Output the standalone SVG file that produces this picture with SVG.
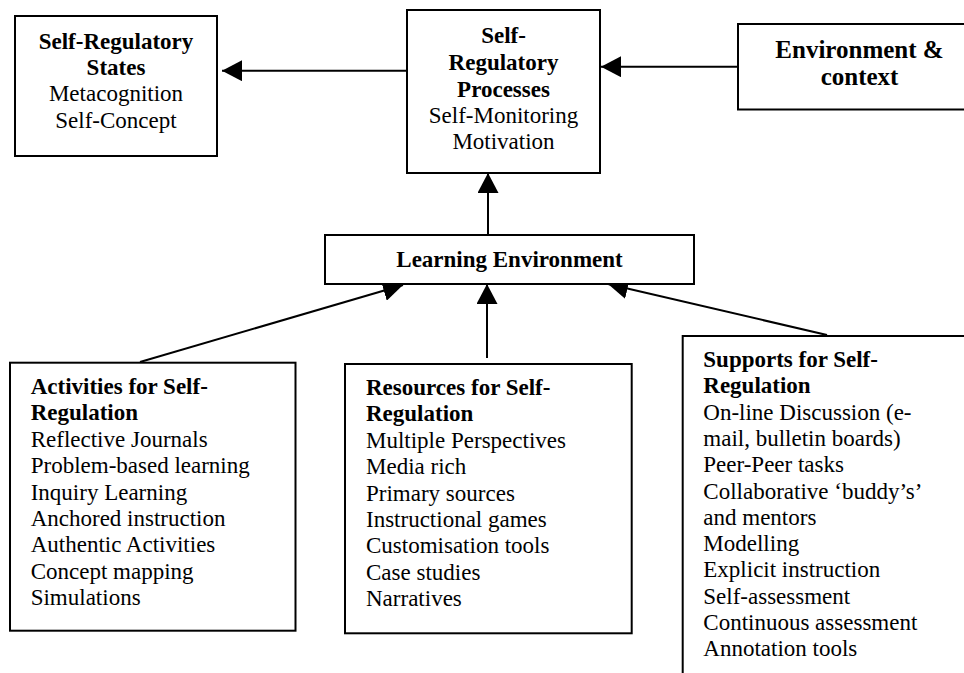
<svg xmlns="http://www.w3.org/2000/svg" width="964" height="673" viewBox="0 0 964 673">
<style>
.box{fill:#fff;stroke:#000;stroke-width:2}
.t{font-family:"Liberation Serif","Times New Roman",serif;font-size:23px;fill:#000}
.b{font-weight:bold}
.c{text-anchor:middle}
.conn{stroke:#000;stroke-width:2;fill:none;marker-end:url(#ah)}
</style>
<defs>
<marker id="ah" markerUnits="userSpaceOnUse" viewBox="0 0 20 21" refX="20" refY="10.5" markerWidth="20" markerHeight="21" orient="auto">
<path d="M0,0 L20,10.5 L0,21 Z" fill="#000"/>
</marker>
</defs>
<rect width="964" height="673" fill="#fff"/>
<g id="connectors">
<line class="conn" x1="407" y1="70.7" x2="222" y2="70.7"/>
<line class="conn" x1="738" y1="66.7" x2="601" y2="66.7"/>
<line class="conn" x1="488" y1="235" x2="488" y2="173"/>
<line class="conn" x1="140" y1="362" x2="403" y2="285"/>
<line class="conn" x1="487" y1="358" x2="487" y2="284"/>
<line class="conn" x1="827" y1="335" x2="608" y2="284"/>
</g>
<g id="states">
<rect class="box" x="15" y="16" width="202" height="140"/>
<text class="t b c" x="116" y="48.5">Self-Regulatory</text>
<text class="t b c" x="116" y="75">States</text>
<text class="t c" x="116" y="101">Metacognition</text>
<text class="t c" x="116" y="127.5">Self-Concept</text>
</g>
<g id="processes">
<rect class="box" x="407" y="10" width="193" height="163"/>
<text class="t b c" x="503.5" y="42.7">Self-</text>
<text class="t b c" x="503.5" y="70">Regulatory</text>
<text class="t b c" x="503.5" y="96.7">Processes</text>
<text class="t c" x="503.5" y="122.7">Self-Monitoring</text>
<text class="t c" x="503.5" y="149">Motivation</text>
</g>
<g id="environment">
<rect class="box" x="738" y="24" width="250" height="85.5"/>
<text class="t b c" x="859.5" y="58.3" style="font-size:25px">Environment &amp;</text>
<text class="t b c" x="859.5" y="85" style="font-size:25px">context</text>
</g>
<g id="learning">
<rect class="box" x="325" y="235" width="369" height="49"/>
<text class="t b c" x="509.5" y="266.7">Learning Environment</text>
</g>
<g id="activities">
<rect class="box" x="10" y="362.7" width="285.5" height="268"/>
<text class="t" x="30.7" y="394"><tspan class="b">Activities for Self-</tspan><tspan class="b" x="30.7" dy="26.4">Regulation</tspan><tspan x="30.7" dy="26.4">Reflective Journals</tspan><tspan x="30.7" dy="26.4">Problem-based learning</tspan><tspan x="30.7" dy="26.4">Inquiry Learning</tspan><tspan x="30.7" dy="26.4">Anchored instruction</tspan><tspan x="30.7" dy="26.4">Authentic Activities</tspan><tspan x="30.7" dy="26.4">Concept mapping</tspan><tspan x="30.7" dy="26.4">Simulations</tspan></text>
</g>
<g id="resources">
<rect class="box" x="345" y="364" width="286.7" height="269.3"/>
<text class="t" x="366" y="395"><tspan class="b">Resources for Self-</tspan><tspan class="b" x="366" dy="26.4">Regulation</tspan><tspan x="366" dy="26.4">Multiple Perspectives</tspan><tspan x="366" dy="26.4">Media rich</tspan><tspan x="366" dy="26.4">Primary sources</tspan><tspan x="366" dy="26.4">Instructional games</tspan><tspan x="366" dy="26.4">Customisation tools</tspan><tspan x="366" dy="26.4">Case studies</tspan><tspan x="366" dy="26.4">Narratives</tspan></text>
</g>
<g id="supports">
<rect class="box" x="682.7" y="336" width="300" height="350"/>
<text class="t" x="703.3" y="367"><tspan class="b">Supports for Self-</tspan><tspan class="b" x="703.3" dy="26.3">Regulation</tspan><tspan x="703.3" dy="26.3">On-line Discussion (e-</tspan><tspan x="703.3" dy="26.3">mail, bulletin boards)</tspan><tspan x="703.3" dy="26.3">Peer-Peer tasks</tspan><tspan x="703.3" dy="26.3">Collaborative ‘buddy’s’</tspan><tspan x="703.3" dy="26.3">and mentors</tspan><tspan x="703.3" dy="26.3">Modelling</tspan><tspan x="703.3" dy="26.3">Explicit instruction</tspan><tspan x="703.3" dy="26.3">Self-assessment</tspan><tspan x="703.3" dy="26.3">Continuous assessment</tspan><tspan x="703.3" dy="26.3">Annotation tools</tspan></text>
</g>
</svg>
